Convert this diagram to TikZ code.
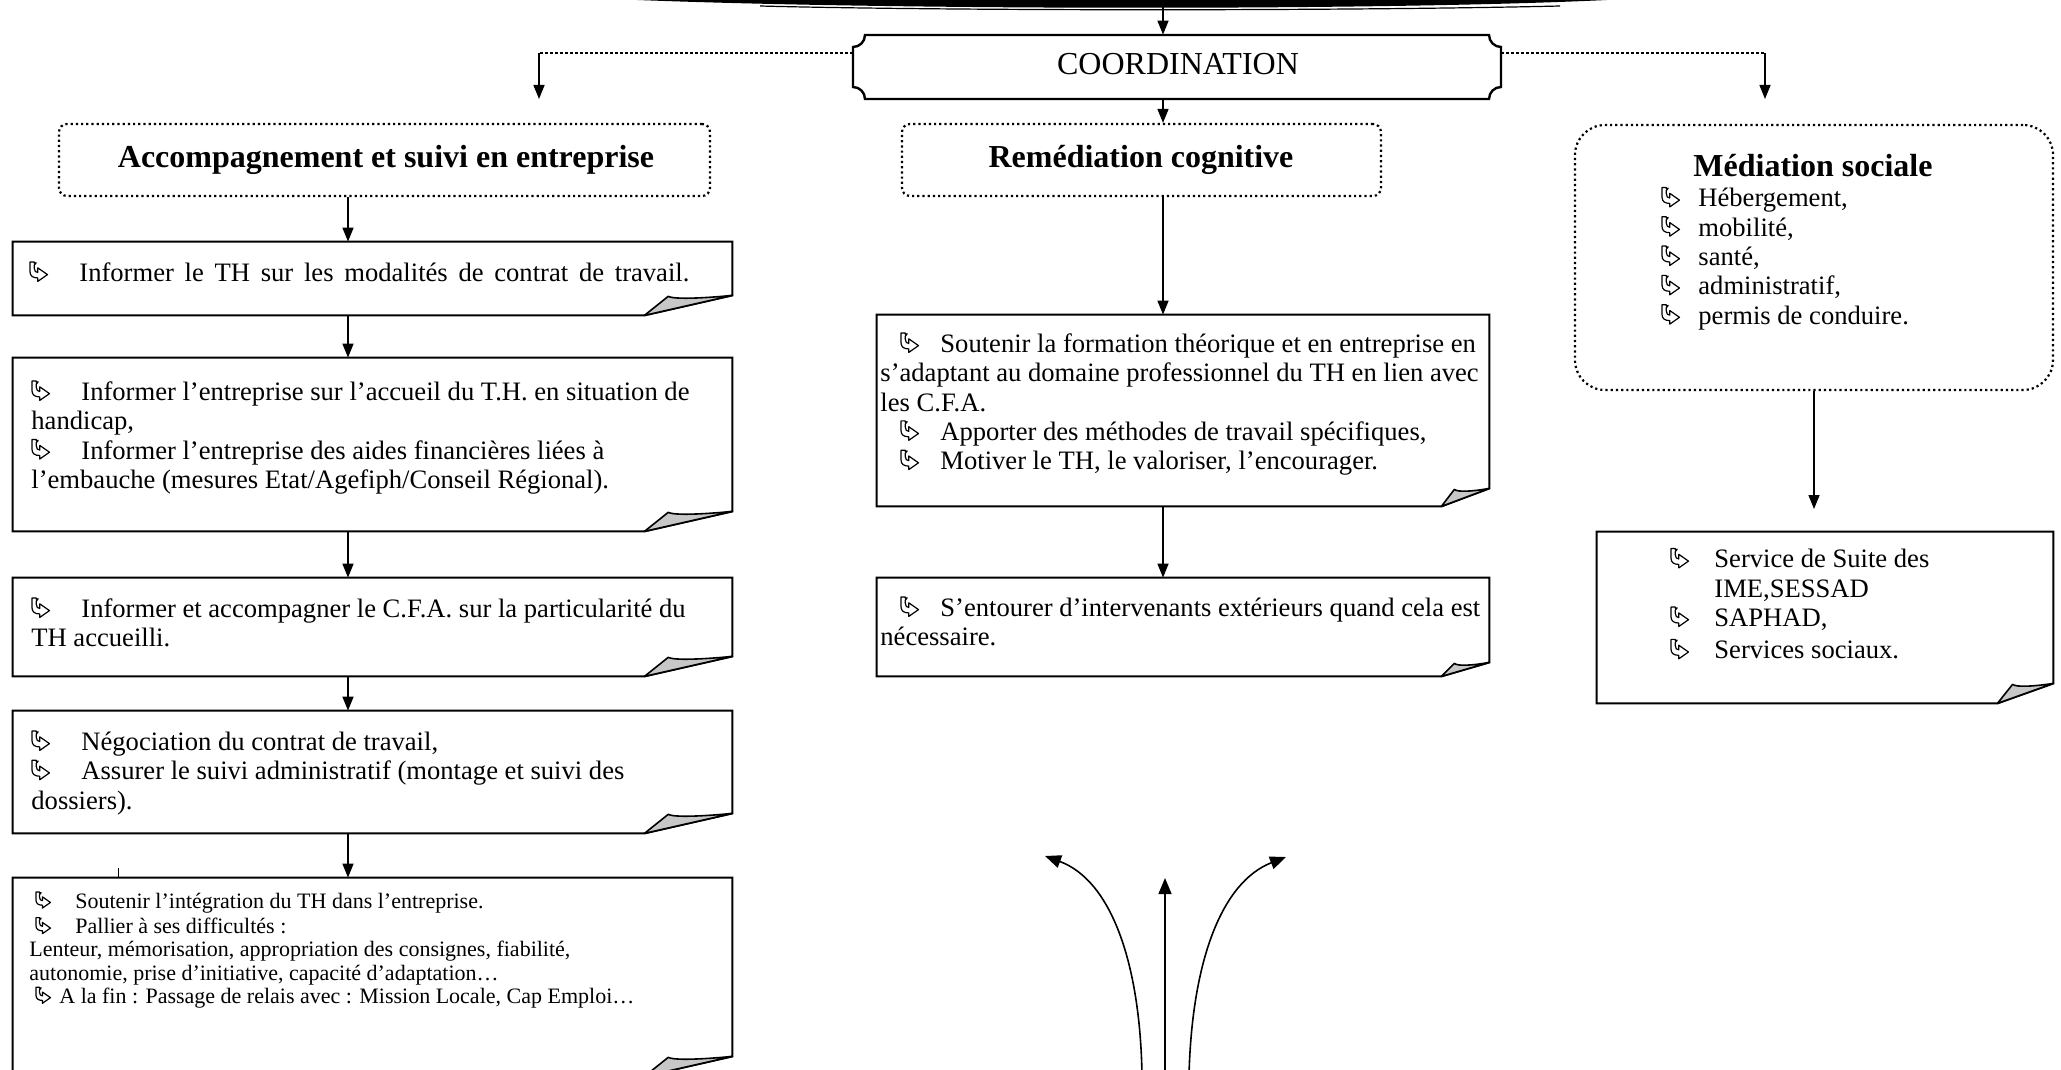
\documentclass[tikz,border=0pt]{standalone}
\usepackage{fontspec}
\setmainfont{Liberation Serif}
\usetikzlibrary{calc,fit,arrows.meta}

\newcommand\bul{\tikz[baseline=0pt,x=0.073em,y=0.073em]\filldraw[fill=white,draw=black,line width=0.6pt,line join=round] (0,10) -- (0,5) .. controls (0,2.8) and (1.5,1.8) .. (4,1.8) -- (4,0) -- (9,3.5) -- (4,7) -- (4,4.6) .. controls (3,4.6) and (2.2,5.3) .. (2.2,6.8) -- (2.2,8.4) -- (3.2,9.6) -- (2.2,9.4) -- (2.2,10) -- cycle;}
\newcommand\itm[1][25pt]{\makebox[#1][l]{\bul}}

\newcommand\dogear[3]{%
  \draw[boxline] (#1.north west) -- (#1.north east) -- ($(#1.south east)+(0,-#3)$) -- ($(#1.south east)+(-#2,0)$) -- (#1.south west) -- cycle;
  \filldraw[flap] ($(#1.south east)+(-#2,0)$) -- ($(#1.south east)+({-0.73*#2},{-#3+1})$) .. controls ($(#1.south east)+({-0.66*#2},{-#3+4})$) and ($(#1.south east)+({-0.35*#2},{-#3+3})$) .. ($(#1.south east)+(0,-#3)$) -- cycle;}

\tikzset{
  boxline/.style={draw=black, line width=1pt, line join=miter},
  flap/.style={fill=black!22, draw=black, line width=0.8pt, line join=round},
  dotbox/.style={draw=black, line width=1.1pt, dash pattern=on 1.1pt off 1.5pt, rounded corners=#1},
  arr/.style={draw=black, line width=0.75pt, -{Triangle[length=7pt,width=5.5pt]}},
  curvarr/.style={draw=black, line width=0.8pt, -{Triangle[length=8pt,width=6.5pt]}},
  dotline/.style={draw=black, line width=1.3pt, dash pattern=on 1.3pt off 1.2pt},
  body/.style={font=\fontsize{13.3}{14.65}\selectfont, align=left, inner sep=0, anchor=north west},
  small/.style={font=\fontsize{11}{11.6}\selectfont, align=left, inner sep=0, anchor=north west},
  head/.style={font=\fontsize{16}{18}\selectfont\bfseries, inner sep=0},
  frame/.style={inner sep=0, draw=none},
}

\begin{document}
\begin{tikzpicture}[x=0.5pt,y=-0.5pt]
\useasboundingbox (0,0) rectangle (2061,1070);

% top band
\fill (591,-2) .. controls (860,11) and (1440,11) .. (1643,-2) -- cycle;
\draw[line width=0.6pt] (760,6) .. controls (950,11) and (1350,11) .. (1560,6);
\coordinate (bandc) at (1163,6);

% COORDINATION
\node[frame, fit={(853,35) (1501,99)}] (coord) {};
\node[font=\fontsize{16}{18}\selectfont, inner sep=0] (coordt) at (1178,64) {COORDINATION};
\draw[line width=1.2pt] (865,35) -- (1489,35) .. controls (1489,41.6) and (1494.4,47) .. (1501,47) -- (1501,87) .. controls (1494.4,87) and (1489,92.4) .. (1489,99) -- (865,99) .. controls (865,92.4) and (859.6,87) .. (853,87) -- (853,47) .. controls (859.6,47) and (865,41.6) .. (865,35) -- cycle;

\coordinate (lc) at (539,53);
\coordinate (ltip) at (539,99);
\coordinate (rc) at (1765,53);
\coordinate (rtip) at (1765,99);
\draw[dotline] (coord.west |- lc) -- (lc);
\draw[dotline] (coord.east |- rc) -- (rc);
\draw[arr] (lc) -- (ltip);
\draw[arr] (rc) -- (rtip);
\draw[arr] (bandc) -- (coord.north -| bandc);

% headers
\node[dotbox=4pt, fit={(59,124) (710,196)}, inner sep=0] (Lh) {};
\node[head] (Lht) at (386,160) {Accompagnement et suivi en entreprise};
\node[dotbox=4pt, fit={(902,124) (1381,196)}, inner sep=0] (Rh) {};
\node[head] (Rht) at (1141,160) {Remédiation cognitive};
\node[dotbox=15pt, fit={(1575,125) (2053,390)}, inner sep=0] (Mh) {};
\node[head] (Mht) at (1813,166) {Médiation sociale};
\node[body] (Mhl) at (1661,186) {\strut\itm[18.5pt]Hébergement,\\ \itm[18.5pt]mobilité,\\ \itm[18.5pt]santé,\\ \itm[18.5pt]administratif,\\ \itm[18.5pt]permis de conduire.};

\draw[arr] (coord.south -| bandc) -- (Rh.north -| bandc);

% left column
\coordinate (ax) at (348,0);
\node[frame, fit={(13,242) (732,315)}] (L1) {};
\node[frame, fit={(13,358) (732,531)}] (L2) {};
\node[frame, fit={(13,578) (732,676)}] (L3) {};
\node[frame, fit={(13,711) (732,833)}] (L4) {};
\node[frame, fit={(13,878) (732,1076)}] (L5) {};
\dogear{L1}{88}{20}
\dogear{L2}{88}{20}
\dogear{L3}{88}{20}
\dogear{L4}{88}{20}
\dogear{L5}{88}{20}

\node[body] (t1) at (29,260.5) {\strut\itm\makebox[305pt][s]{Informer le TH sur les modalités de contrat de travail.}};
\node[body] (t2) at (31,379.5) {\strut\itm Informer l’entreprise sur l’accueil du T.H. en situation de\\ handicap,\\ \itm Informer l’entreprise des aides financières liées à\\ l’embauche (mesures Etat/Agefiph/Conseil Régional).};
\node[body] (t3) at (31,596.5) {\strut\itm Informer et accompagner le C.F.A. sur la particularité du\\ TH accueilli.};
\node[body] (t4) at (31,729.5) {\strut\itm Négociation du contrat de travail,\\ \itm Assurer le suivi administratif (montage et suivi des\\ dossiers).};
\node[small] (t5) at (29,891) {\strut\hspace{3pt}\itm[20pt]Soutenir l’intégration du TH dans l’entreprise.\\ \hspace{3pt}\itm[20pt]Pallier à ses difficultés :\\ Lenteur, mémorisation, appropriation des consignes, fiabilité,\\ autonomie, prise d’initiative, capacité d’adaptation…\\ \hspace{3pt}\itm[12pt]A la fin : Passage de relais avec : Mission Locale, Cap Emploi…};

\draw[arr] (Lh.south -| ax) -- (L1.north -| ax);
\draw[arr] (L1.south -| ax) -- (L2.north -| ax);
\draw[arr] (L2.south -| ax) -- (L3.north -| ax);
\draw[arr] (L3.south -| ax) -- (L4.north -| ax);
\draw[arr] (L4.south -| ax) -- (L5.north -| ax);
\coordinate (tick) at (118,868);
\draw[line width=0.5pt] (tick) -- (L5.north -| tick);

% middle column
\node[frame, fit={(877,315) (1489,506)}] (M1) {};
\node[frame, fit={(877,578) (1489,676)}] (M2) {};
\dogear{M1}{48}{18}
\dogear{M2}{48}{14}
\node[body] (tm1) at (880,331.5) {\strut\hspace{10pt}\itm[20pt]Soutenir la formation théorique et en entreprise en\\ s’adaptant au domaine professionnel du TH en lien avec\\ les C.F.A.\\ \hspace{10pt}\itm[20pt]Apporter des méthodes de travail spécifiques,\\ \hspace{10pt}\itm[20pt]Motiver le TH, le valoriser, l’encourager.};
\node[body] (tm2) at (880,595.5) {\strut\hspace{10pt}\itm[20pt]S’entourer d’intervenants extérieurs quand cela est\\ nécessaire.};
\draw[arr] (Rh.south -| bandc) -- (M1.north -| bandc);
\draw[arr] (M1.south -| bandc) -- (M2.north -| bandc);

% right column
\node[frame, fit={(1597,532) (2053,703)}] (R1) {};
\dogear{R1}{56}{20}
\node[body] (tr1) at (1670,547) {\strut\itm[22pt]Service de Suite des\\ \hspace{22pt}IME,SESSAD\\ \itm[22pt]SAPHAD,\\[1.5pt] \itm[22pt]Services sociaux.};
\coordinate (mx) at (1814,509);
\draw[arr] (Mh.south -| mx) -- (mx);

% bottom arrows
\coordinate (b1) at (1142,1075);
\coordinate (b2) at (1165,1075);
\coordinate (b3) at (1189,1075);
\coordinate (e1) at (1045,856);
\coordinate (e2) at (1165,878);
\coordinate (e3) at (1286,857);
\draw[curvarr] (b1) .. controls (1140,960) and (1110,880) .. (e1);
\draw[curvarr] (b2) -- (e2);
\draw[curvarr] (b3) .. controls (1192,960) and (1222,882) .. (e3);
\end{tikzpicture}
\end{document}
